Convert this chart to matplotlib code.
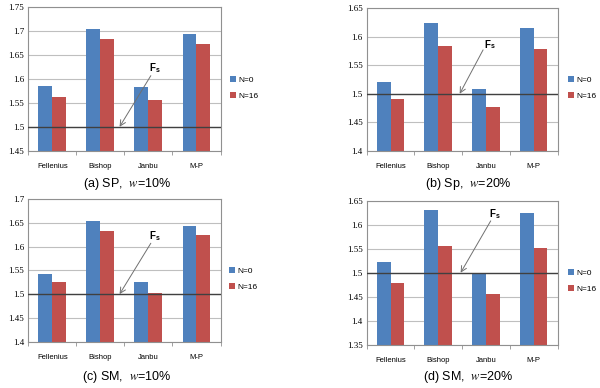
import matplotlib
matplotlib.use("Agg")
import matplotlib.pyplot as plt
import numpy as np

plt.rcParams['mathtext.fontset'] = 'stix'

categories = ["Fellenius", "Bishop", "Janbu", "M-P"]
series_names = ["N=0", "N=16"]

a_n0 = [1.585, 1.705, 1.584, 1.695]
a_n16 = [1.562, 1.683, 1.557, 1.674]
b_n0 = [1.521, 1.625, 1.508, 1.615]
b_n16 = [1.491, 1.584, 1.476, 1.578]
c_n0 = [1.542, 1.653, 1.525, 1.643]
c_n16 = [1.525, 1.633, 1.502, 1.624]
d_n0 = [1.522, 1.631, 1.499, 1.624]
d_n16 = [1.478, 1.555, 1.455, 1.551]

a_ticks = [1.45, 1.5, 1.55, 1.6, 1.65, 1.7, 1.75]
b_ticks = [1.4, 1.45, 1.5, 1.55, 1.6, 1.65]
c_ticks = [1.4, 1.45, 1.5, 1.55, 1.6, 1.65, 1.7]
d_ticks = [1.35, 1.4, 1.45, 1.5, 1.55, 1.6, 1.65]

captions = [r"(a) SP,  $w$=10%", r"(b) Sp,  $w$=20%",
            r"(c) SM,  $w$=10%", r"(d) SM,  $w$=20%"]

fs_level = 1.5

W, H = 600, 388
fig = plt.figure(figsize=(6, 3.88), dpi=100)

blue = "#4F81BD"
red = "#C0504D"
grid_c = "#BFBFBF"
sans = ['Liberation Sans', 'DejaVu Sans']

# panel layout in pixels: left, top, right, bottom
panels = [
    dict(box=(28.3, 7.3, 220.5, 150.7), n0=a_n0, n16=a_n16, ticks=a_ticks,
         head=(1.40, 1.5), tail=(2.05, 1.607), txt=(2.03, 1.622),
         leg=(230, 88), cap=(127, 184)),
    dict(box=(366.7, 8.3, 557.5, 150.7), n0=b_n0, n16=b_n16, ticks=b_ticks,
         head=(1.45, 1.5), tail=(1.94, 1.577), txt=(1.97, 1.586),
         leg=(568, 88), cap=(468, 184)),
    dict(box=(28.3, 199, 220.5, 341.7), n0=c_n0, n16=c_n16, ticks=c_ticks,
         head=(1.40, 1.5), tail=(2.05, 1.607), txt=(2.03, 1.622),
         leg=(229, 279), cap=(127, 376.7)),
    dict(box=(366.7, 200.7, 557.5, 344.7), n0=d_n0, n16=d_n16, ticks=d_ticks,
         head=(1.47, 1.5), tail=(2.10, 1.608), txt=(2.08, 1.622),
         leg=(568, 281), cap=(468, 376.7)),
]

x = np.arange(len(categories))
bw = 0.29

for i, p in enumerate(panels):
    l, t, r, b = p['box']
    ax = fig.add_axes([l / W, 1 - b / H, (r - l) / W, (b - t) / H])
    ticks = p['ticks']
    ax.set_ylim(ticks[0], ticks[-1])
    ax.set_xlim(-0.5, len(categories) - 0.5)
    ax.set_axisbelow(True)
    ax.yaxis.grid(True, color=grid_c, linewidth=0.8)
    ax.bar(x - bw / 2, p['n0'], bw, color=blue, label=series_names[0], zorder=2)
    ax.bar(x + bw / 2, p['n16'], bw, color=red, label=series_names[1], zorder=2)
    ax.axhline(fs_level, color="#404040", linewidth=1.0, zorder=3)
    for s in ax.spines.values():
        s.set_color("#909090")
        s.set_linewidth(0.8)
    ax.set_yticks(ticks)
    ax.set_yticklabels([f"{v:g}" for v in ticks], fontsize=6.5,
                       family=['Liberation Serif', 'DejaVu Serif'])
    ax.tick_params(axis='y', length=0, pad=3)
    ax.set_xticks(x)
    ax.set_xticklabels(categories, fontsize=5.5, family=sans)
    ax.tick_params(axis='x', length=0, pad=9)
    ax.set_xticks(np.arange(-0.5, len(categories) + 0.5, 1), minor=True)
    ax.tick_params(axis='x', which='minor', length=3, color="#909090")
    ax.annotate("", xy=p['head'], xytext=p['tail'],
                arrowprops=dict(arrowstyle="->", color="#707070", lw=0.7,
                                shrinkA=0, shrinkB=0), zorder=4)
    ax.text(p['txt'][0], p['txt'][1], "F", fontsize=7, fontweight='bold',
            family=sans, ha='left', va='center', zorder=4)
    ax.annotate("s", xy=p['txt'], xytext=(4.5, -1.5), textcoords='offset points',
                fontsize=5, fontweight='bold', family=sans, ha='left',
                va='center', zorder=4)
    lx, ly = p['leg']
    fig.legend(handles=ax.patches[:1] + ax.patches[4:5],
               labels=series_names, loc='center left',
               bbox_to_anchor=(lx / W, 1 - ly / H), frameon=False,
               handlelength=0.7, handleheight=0.7,
               handletextpad=0.3, labelspacing=1.0, borderpad=0,
               borderaxespad=0,
               prop=dict(family=sans, size=6))
    cx, cy = p['cap']
    fig.text(cx / W, 1 - cy / H, captions[i], fontsize=9, family=sans,
             ha='center', va='center')

fig.savefig("out.png", dpi=100, facecolor='white')
